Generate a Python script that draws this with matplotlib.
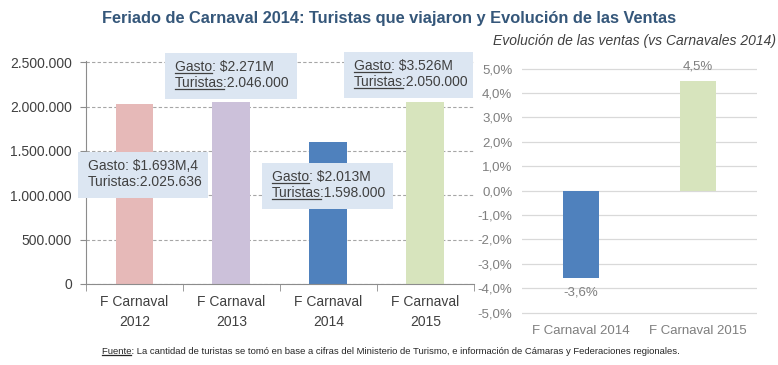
import matplotlib
matplotlib.use('Agg')
import matplotlib.pyplot as plt
from matplotlib.patches import Rectangle
from matplotlib.lines import Line2D

# datos
categorias = ['F Carnaval\n2012', 'F Carnaval\n2013', 'F Carnaval\n2014', 'F Carnaval\n2015']
turistas = [2025636, 2046000, 1598000, 2050000]
colores = ['#E6B9B8', '#CCC1DA', '#4F81BD', '#D7E4BD']
gasto_txt = ['$1.693M,4', '$2.271M', '$2.013M', '$3.526M']
turistas_txt = ['2.025.636', '2.046.000', '1.598.000', '2.050.000']
subrayado = [False, True, True, True]

cat_ventas = ['F Carnaval 2014', 'F Carnaval 2015']
ventas = [-3.6, 4.5]
colores_ventas = ['#4F81BD', '#D7E4BD']

# cajas de texto (izq, abajo, ancho, alto) en coordenadas de datos
cajas = [(-0.582, 968000, 1.34, 518000),
         (0.314, 2083000, 1.36, 518000),
         (1.314, 845000, 1.35, 518000),
         (2.16, 2094500, 1.33, 518000)]

fuente = 'Liberation Sans'

fig = plt.figure(figsize=(7.78, 3.65), dpi=100)
fig.patch.set_facecolor('white')

# ---- grafico izquierdo ----
ax = fig.add_axes([0.1105, 0.222, 0.4985, 0.610])
x = list(range(len(categorias)))
ax.bar(x, turistas, width=0.39, color=colores, zorder=2)
ax.set_xlim(-0.5, 3.5)
ax.set_ylim(0, 2510000)
ax.set_yticks([0, 500000, 1000000, 1500000, 2000000, 2500000])
ax.set_yticklabels(['0', '500.000', '1.000.000', '1.500.000', '2.000.000', '2.500.000'],
                   fontfamily=fuente, fontsize=10, color='#404040')
ax.set_xticks(x)
ax.set_xticklabels(categorias, fontfamily=fuente, fontsize=10, color='#404040', linespacing=1.5)
ax.set_xticks([-0.5, 0.5, 1.5, 2.5, 3.5], minor=True)
ax.tick_params(axis='x', which='major', length=0, pad=8)
ax.tick_params(axis='x', which='minor', length=5, color='#8C8C8C')
ax.tick_params(axis='y', length=4, color='#8C8C8C', pad=6)
ax.yaxis.grid(True, color='#A6A6A6', linestyle=(0, (3, 2)), linewidth=0.8, zorder=0)
ax.set_axisbelow(True)
for s in ['top', 'right']:
    ax.spines[s].set_visible(False)
ax.spines['left'].set_color('#8C8C8C')
ax.spines['bottom'].set_color('#8C8C8C')

renderer = fig.canvas.get_renderer()
estilo = dict(fontfamily=fuente, fontsize=10, color='#404040')


def subrayar(t, prefijo, props, color):
    tmp = fig.text(0, 0, prefijo, **props)
    w = tmp.get_window_extent(renderer).width
    tmp.remove()
    bb = t.get_window_extent(renderer)
    x0, y0 = bb.x0, bb.y0 + 1.5
    inv = fig.transFigure.inverted()
    p0 = inv.transform((x0, y0))
    p1 = inv.transform((x0 + w, y0))
    fig.add_artist(Line2D([p0[0], p1[0]], [p0[1], p1[1]], color=color, linewidth=0.9))


for i, (l, b, w, h) in enumerate(cajas):
    ax.add_patch(Rectangle((l, b), w, h, facecolor='#DCE6F2', edgecolor='none',
                           zorder=3, clip_on=False))
    t1 = ax.annotate('Gasto: ' + gasto_txt[i], xy=(l, b + h), xytext=(7.2, -13),
                     textcoords='offset points', va='baseline', ha='left', zorder=4,
                     annotation_clip=False, **estilo)
    t2 = ax.annotate('Turistas:' + turistas_txt[i], xy=(l, b + h), xytext=(7.2, -24.5),
                     textcoords='offset points', va='baseline', ha='left', zorder=4,
                     annotation_clip=False, **estilo)
    if subrayado[i]:
        subrayar(t1, 'Gasto', estilo, '#404040')
        subrayar(t2, 'Turistas', estilo, '#404040')

# ---- grafico derecho ----
ax2 = fig.add_axes([0.671, 0.137, 0.302, 0.682])
x2 = list(range(len(cat_ventas)))
ax2.bar(x2, ventas, width=0.31, color=colores_ventas, zorder=2)
ax2.set_xlim(-0.5, 1.5)
ax2.set_ylim(-5.1, 5.1)
ticks = [-5, -4, -3, -2, -1, 0, 1, 2, 3, 4, 5]
ax2.set_yticks(ticks)
ax2.set_yticklabels([('%.1f%%' % v).replace('.', ',') for v in ticks],
                    fontfamily=fuente, fontsize=9.5, color='#7F7F7F')
ax2.set_xticks(x2)
ax2.set_xticklabels(cat_ventas, fontfamily=fuente, fontsize=9.5, color='#7F7F7F')
ax2.tick_params(length=0)
ax2.tick_params(axis='y', pad=7)
ax2.tick_params(axis='x', pad=7)
ax2.yaxis.grid(True, color='#D9D9D9', linewidth=0.9, zorder=0)
ax2.set_axisbelow(True)
for s in ax2.spines.values():
    s.set_visible(False)
for xi, v in zip(x2, ventas):
    off = 6 if v > 0 else -6
    ax2.annotate(('%.1f%%' % v).replace('.', ','), xy=(xi, v), xytext=(0, off),
                 textcoords='offset points', ha='center',
                 va='bottom' if v > 0 else 'top',
                 fontfamily=fuente, fontsize=9.5, color='#7F7F7F')

# ---- textos ----
fig.text(0.5, 0.95, 'Feriado de Carnaval 2014: Turistas que viajaron y Evolución de las Ventas',
         ha='center', va='center', fontfamily=fuente, fontweight='bold', fontsize=11.8,
         color='#35577A')
fig.text(0.997, 0.888, 'Evolución de las ventas (vs Carnavales 2014)', ha='right', va='center',
         fontfamily=fuente, fontstyle='italic', fontsize=10, color='#404040')

pie_props = dict(fontfamily=fuente, fontsize=6.8, color='#262626')
pie = fig.text(0.131, 0.03, 'Fuente: La cantidad de turistas se tomó en base a cifras del Ministerio de Turismo, '
               'e información de Cámaras y Federaciones regionales.',
               ha='left', va='baseline', **pie_props)
subrayar(pie, 'Fuente', pie_props, '#262626')

fig.savefig('out.png', dpi=100)
